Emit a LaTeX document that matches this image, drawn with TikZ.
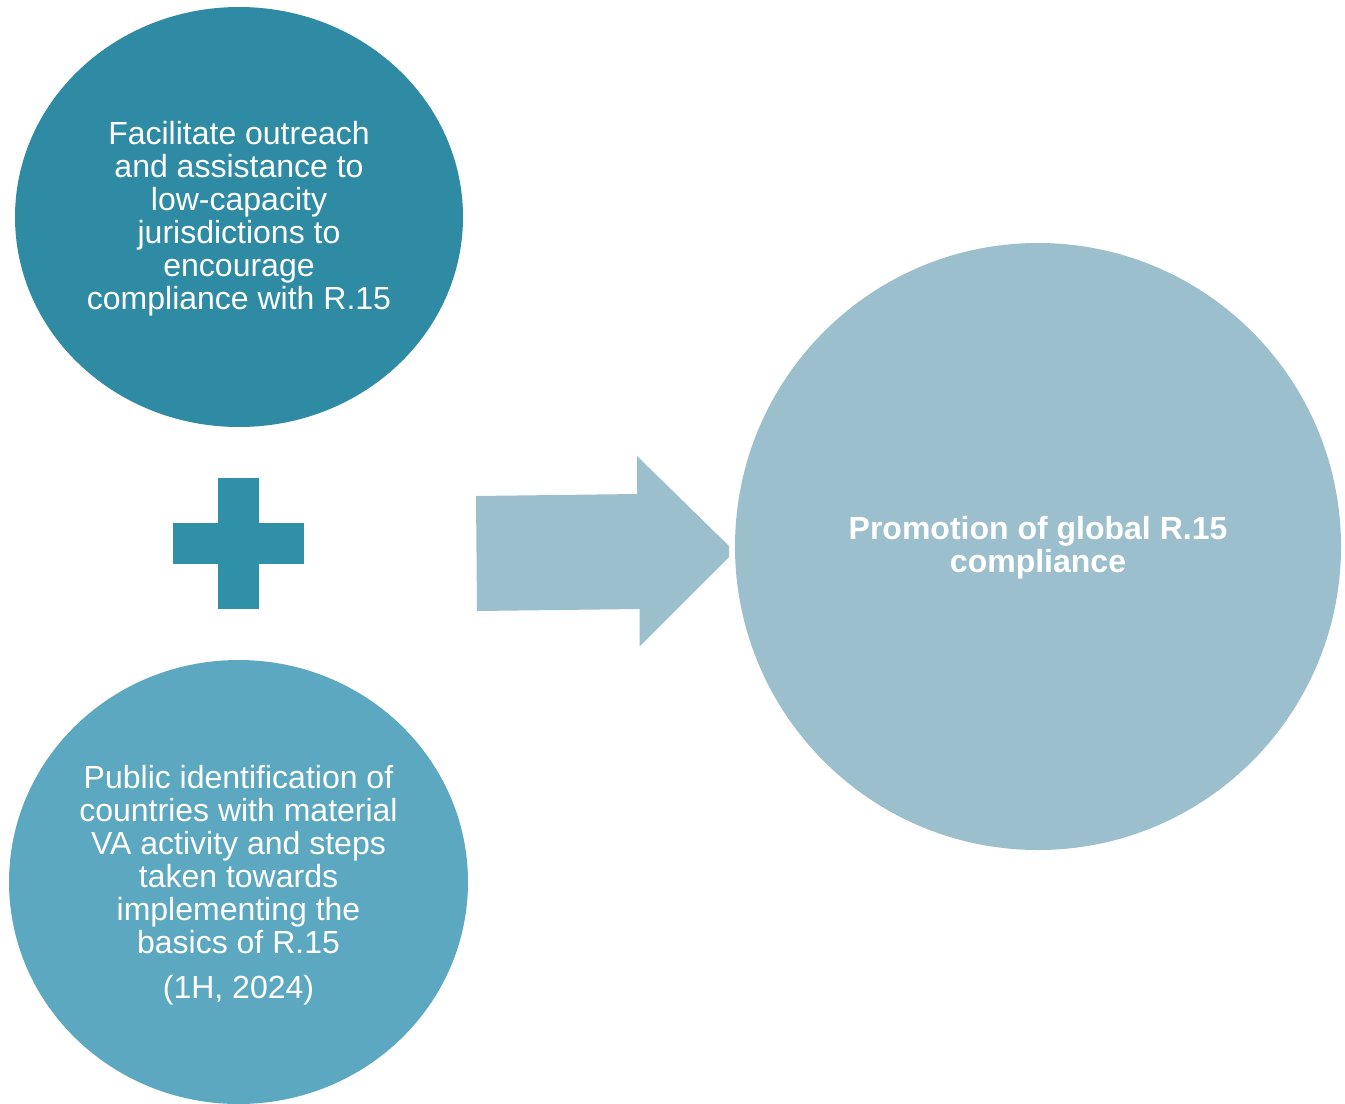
\documentclass[tikz,border=0pt]{standalone}
\usepackage{fontspec}
\setmainfont{Liberation Sans}
\definecolor{tealdark}{RGB}{46,139,163}
\definecolor{tealmid}{RGB}{93,168,193}
\definecolor{teallight}{RGB}{155,191,204}
\definecolor{plusteal}{RGB}{48,144,168}
\tikzset{
  bubbletext/.style={text=white, align=center, font=\fontsize{24pt}{24.75pt}\selectfont},
  goaltext/.style={text=white, align=center, font=\fontsize{24pt}{24.75pt}\selectfont\bfseries},
}
\begin{document}
\begin{tikzpicture}[x=0.75pt, y=-0.75pt]
  \useasboundingbox (0,0) rectangle (1345,1103);
  \clip (0,0) rectangle (1345,1103);

  % input bubbles and outcome bubble
  \fill[tealdark] (239,217) ellipse [x radius=224, y radius=210];
  \fill[tealmid] (238.5,882) ellipse [x radius=229.5, y radius=222];
  \fill[teallight] (1038,546.5) ellipse [x radius=303, y radius=303.5];

  % plus sign between the inputs
  \fill[plusteal] (217.5,478) rectangle (259,608.5);
  \fill[plusteal] (173,522.5) rectangle (303.5,564);

  % block arrow towards the outcome
  \fill[teallight] (476,496) -- (637,494) -- (637,456) -- (729,546) -- (729,557)
     -- (639.5,646.5) -- (639.5,609) -- (477,611) -- cycle;

  % texts
  \node[bubbletext] (topin) at (239,219)
    {Facilitate outreach\\and assistance to\\low-capacity\\jurisdictions to\\encourage\\compliance with R.15};
  \node[bubbletext] (botin) at (238.5,859.5)
    {Public identification of\\countries with material\\VA activity and steps\\taken towards\\implementing the\\basics of R.15};
  \node[bubbletext] (botdate) at (238.5,990) {(1H, 2024)};
  \node[goaltext] (goal) at (1038,548) {Promotion of global R.15\\compliance};
\end{tikzpicture}
\end{document}
